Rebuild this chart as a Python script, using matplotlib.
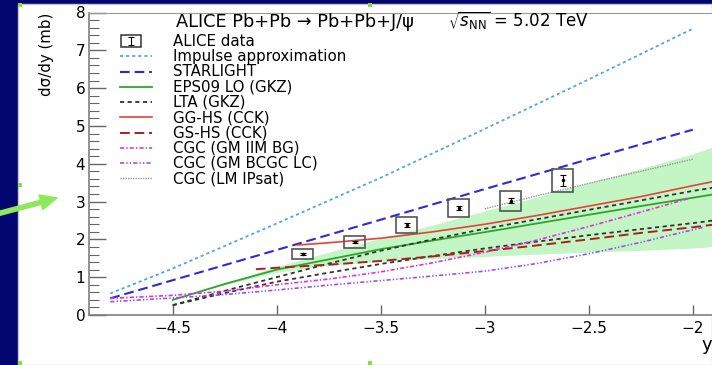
import matplotlib
matplotlib.use('Agg')
import matplotlib.pyplot as plt
from matplotlib.lines import Line2D
from matplotlib.patches import Rectangle, FancyArrowPatch

plt.rcParams['font.family'] = ['DejaVu Sans']
plt.rcParams['mathtext.fontset'] = 'dejavusans'
plt.rcParams['lines.scale_dashes'] = False

# ALICE data points (rapidity bin centres, dsigma/dy in mb)
data_y = [-3.875, -3.625, -3.375, -3.125, -2.875, -2.625]
data_val = [1.62, 1.94, 2.38, 2.83, 3.02, 3.56]
data_stat = [0.03, 0.03, 0.04, 0.05, 0.07, 0.15]
data_syst = [0.13, 0.16, 0.21, 0.24, 0.26, 0.31]
bin_half = 0.05

# model curves
imp_y = [-4.8, -4.5, -4.0, -3.5, -3.0, -2.5, -2.0]
imp_val = [0.57, 1.23, 2.42, 3.63, 4.92, 6.23, 7.57]

sl_y = [-4.8, -4.5, -4.0, -3.5, -3.0, -2.5, -2.0]
sl_val = [0.44, 0.92, 1.72, 2.52, 3.33, 4.12, 4.90]

eps_y = [-4.5, -4.25, -4.0, -3.75, -3.5, -3.25, -3.0, -2.75, -2.5, -2.25, -2.0, -1.9]
eps_val = [0.40, 0.82, 1.20, 1.47, 1.74, 1.97, 2.19, 2.42, 2.65, 2.88, 3.10, 3.19]
eps_lo = [0.40, 0.80, 1.13, 1.31, 1.42, 1.49, 1.55, 1.61, 1.66, 1.71, 1.77, 1.81]
eps_hi = [0.40, 0.84, 1.28, 1.66, 2.03, 2.38, 2.75, 3.12, 3.50, 3.87, 4.26, 4.45]

lta_y = [-4.5, -4.25, -4.0, -3.75, -3.5, -3.25, -3.0, -2.75, -2.5, -2.25, -2.0, -1.9]
lta_lo = [0.26, 0.58, 0.88, 1.12, 1.35, 1.56, 1.76, 1.94, 2.11, 2.27, 2.43, 2.50]
lta_hi = [0.26, 0.64, 1.00, 1.36, 1.70, 2.00, 2.28, 2.53, 2.78, 3.03, 3.28, 3.37]

gg_y = [-3.9, -3.75, -3.5, -3.25, -3.0, -2.75, -2.5, -2.25, -2.0, -1.9]
gg_val = [1.85, 1.91, 2.03, 2.20, 2.40, 2.63, 2.88, 3.13, 3.42, 3.53]

gs_y = [-4.1, -4.0, -3.75, -3.5, -3.25, -3.0, -2.75, -2.5, -2.25, -2.0, -1.9]
gs_val = [1.21, 1.25, 1.33, 1.43, 1.55, 1.69, 1.84, 2.00, 2.17, 2.32, 2.39]

iim_y = [-4.8, -4.5, -4.25, -4.0, -3.75, -3.5, -3.25, -3.0, -2.75, -2.5, -2.25, -2.02]
iim_val = [0.44, 0.52, 0.63, 0.80, 0.95, 1.14, 1.38, 1.66, 1.98, 2.34, 2.72, 3.08]

bcgc_y = [-4.8, -4.5, -4.25, -4.0, -3.75, -3.5, -3.25, -3.0, -2.75, -2.5, -2.25, -1.95]
bcgc_val = [0.35, 0.45, 0.54, 0.66, 0.79, 0.91, 1.03, 1.16, 1.36, 1.62, 1.92, 2.32]

ipsat_y = [-3.0, -2.75, -2.5, -2.25, -2.0]
ipsat_val = [2.81, 3.15, 3.48, 3.80, 4.12]

x_ticks = [-4.5, -4, -3.5, -3, -2.5, -2]
x_tick_labels = ['\u22124.5', '\u22124', '\u22123.5', '\u22123', '\u22122.5', '\u22122']
y_ticks = [0, 1, 2, 3, 4, 5, 6, 7, 8]

legend_labels = ['ALICE data', 'Impulse approximation', 'STARLIGHT', 'EPS09 LO (GKZ)',
                 'LTA (GKZ)', 'GG-HS (CCK)', 'GS-HS (CCK)', 'CGC (GM IIM BG)',
                 'CGC (GM BCGC LC)', 'CGC (LM IPsat)']

styles = {
    'imp': dict(color='#4da3f0', ls=(0, (2.2, 2.2)), lw=1.3),
    'sl': dict(color='#2b2bd6', ls=(0, (7, 3.5)), lw=1.5),
    'eps': dict(color='#2ea62e', ls='-', lw=1.3),
    'lta': dict(color='#333333', ls=(0, (3, 2.5)), lw=1.3),
    'gg': dict(color='#e84040', ls='-', lw=1.2),
    'gs': dict(color='#a82020', ls=(0, (7, 3.5)), lw=1.4),
    'iim': dict(color='#e030e0', ls=(0, (3, 1.5, 1, 1.5)), lw=1.2),
    'bcgc': dict(color='#9a50f0', ls=(0, (3, 1.5, 1, 1.5, 1, 1.5)), lw=1.2),
    'ipsat': dict(color='#999999', ls=(0, (1, 0.8)), lw=1.0),
}

W, H = 712.0, 365.0


def fx(px):
    return px / W


def fy(py):
    return 1 - py / H


fig = plt.figure(figsize=(W / 100, H / 100), dpi=100)
fig.patch.set_facecolor('#03066e')

# white slide area
fig.add_artist(Rectangle((fx(18), 0), 1 - fx(18), fy(4), transform=fig.transFigure,
                         facecolor='white', edgecolor='#c8c8c8', lw=1, zorder=0))

ax = fig.add_axes([fx(89.5), fy(315), 3.1 * 208 / W, (315 - 12.5) / H])
ax.set_xlim(-4.9, -1.8)
ax.set_ylim(0, 8)
ax.set_facecolor('white')

ax.fill_between(eps_y, eps_lo, eps_hi, color='#c4f5c4', lw=0, zorder=1)
ax.plot(imp_y, imp_val, zorder=2, **styles['imp'])
ax.plot(sl_y, sl_val, zorder=2, **styles['sl'])
ax.plot(eps_y, eps_val, zorder=2, **styles['eps'])
ax.plot(lta_y, lta_lo, zorder=2, **styles['lta'])
ax.plot(lta_y, lta_hi, zorder=2, **styles['lta'])
ax.plot(gg_y, gg_val, zorder=2, **styles['gg'])
ax.plot(gs_y, gs_val, zorder=2, **styles['gs'])
ax.plot(iim_y, iim_val, zorder=2, **styles['iim'])
ax.plot(bcgc_y, bcgc_val, zorder=2, **styles['bcgc'])
ax.plot(ipsat_y, ipsat_val, zorder=2, **styles['ipsat'])

for xi, vi, si in zip(data_y, data_val, data_syst):
    ax.add_patch(Rectangle((xi - bin_half, vi - si), 2 * bin_half, 2 * si, fill=False,
                           edgecolor='#555555', lw=1.2, zorder=4))
ax.errorbar(data_y, data_val, yerr=data_stat, fmt='o', ms=1.5, color='black',
            elinewidth=0.8, capsize=2, capthick=0.8, zorder=5)

ax.set_xticks(x_ticks)
ax.set_xticklabels(x_tick_labels)
ax.set_yticks(y_ticks)
ax.set_yticks([v / 5 for v in range(41)], minor=True)
ax.tick_params(axis='y', which='major', direction='in', length=12, width=1, color='#666666',
               labelsize=11, pad=3)
ax.tick_params(axis='y', which='minor', direction='in', length=7, width=0.8, color='#666666')
ax.tick_params(axis='x', which='major', direction='in', length=7, width=1, color='#666666',
               labelsize=11, pad=4)
for side in ['left', 'bottom']:
    ax.spines[side].set_color('#808080')
    ax.spines[side].set_linewidth(1.2)
ax.spines['top'].set_color('#999999')
ax.spines['top'].set_linewidth(0.8)
ax.spines['right'].set_visible(False)

# axis titles
fig.text(fx(47), fy(13), 'd\u03c3/dy (mb)', rotation=90, ha='center', va='top', fontsize=10.8)
fig.text(fx(707), fy(350), 'y', ha='center', va='baseline', fontsize=13)

# legend header
fig.text(fx(175.7), fy(27.3), 'ALICE Pb+Pb \u2192 Pb+Pb+J/\u03c8', ha='left', va='baseline',
         fontsize=12.8)
fig.text(fx(448), fy(27.3), r'$\sqrt{s_{\mathrm{NN}}}$ = 5.02 TeV', ha='left', va='baseline',
         fontsize=12)

# legend entries
keys = [None, 'imp', 'sl', 'eps', 'lta', 'gg', 'gs', 'iim', 'bcgc', 'ipsat']
for i, (lab, key) in enumerate(zip(legend_labels, keys)):
    row = 41 + 15.25 * i
    fig.text(fx(172.7), fy(row + 4.8), lab, ha='left', va='baseline', fontsize=10.8)
    if key is None:
        fig.add_artist(Rectangle((fx(120.7), fy(row + 6)), 20 / W, 12 / H,
                                 transform=fig.transFigure, fill=False,
                                 edgecolor='#333333', lw=1.1))
        fig.add_artist(Line2D([fx(130.7), fx(130.7)], [fy(row - 4), fy(row + 4)],
                              transform=fig.transFigure, color='black', lw=0.8,
                              marker='_', ms=4, mew=0.8))
    else:
        fig.add_artist(Line2D([fx(120), fx(152)], [fy(row), fy(row)],
                              transform=fig.transFigure, **styles[key]))

# green arrow on the slide
fig.add_artist(FancyArrowPatch((fx(-5), fy(214.5)), (fx(57), fy(198)),
                               transform=fig.transFigure, mutation_scale=10,
                               arrowstyle='simple,head_length=1.2,head_width=1.08,tail_width=0.3',
                               color='#8ee85c', shrinkA=0, shrinkB=0, zorder=10))

# selection handles
for hx, hy in [(20, 5), (370, 5), (20, 185), (20, 363), (370, 363)]:
    fig.add_artist(Rectangle((fx(hx - 2), fy(hy + 2)), 4 / W, 4 / H, transform=fig.transFigure,
                             facecolor='#7fe04a', edgecolor='none', zorder=11))

fig.savefig('out.png', dpi=100, facecolor=fig.get_facecolor())
